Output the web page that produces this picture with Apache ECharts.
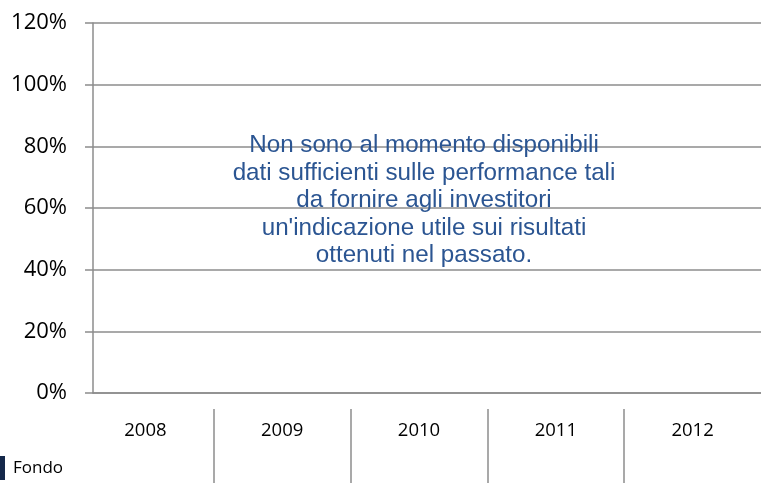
<!DOCTYPE html>
<html>
<head>
<meta charset="utf-8">
<script src="https://cdn.jsdelivr.net/npm/echarts@6/dist/echarts.min.js"></script>
<style>
  html, body { margin: 0; padding: 0; background: #fff; }
  #chart { width: 761px; height: 483px; }
</style>
</head>
<body>
<div id="chart"></div>
<script>
// anni della tabella sotto il grafico
var anni = ['2008', '2009', '2010', '2011', '2012'];
// rendimenti del fondo: nessun dato disponibile
var fondo = ['-', '-', '-', '-', '-'];
// scala verticale in %
var yMin = 0, yMax = 120, yStep = 20;
var nota = [
  'Non sono al momento disponibili',
  'dati sufficienti sulle performance tali',
  'da fornire agli investitori',
  "un'indicazione utile sui risultati",
  'ottenuti nel passato.'
];

var chart = echarts.init(document.getElementById('chart'));
var grigio = '#8c8c8c';

var option = {
  animation: false,
  title: {
    text: nota.join('\n'),
    left: 419,
    top: 127,
    textAlign: 'center',
    textStyle: {
      fontFamily: 'Liberation Sans',
      fontSize: 24.2,
      lineHeight: 27.5,
      fontWeight: 'normal',
      color: '#2B5592'
    }
  },
  legend: {
    data: ['Fondo'],
    left: -11,
    top: 456,
    padding: 0,
    icon: 'rect',
    itemWidth: 16,
    itemHeight: 24,
    itemGap: 10,
    textStyle: { fontFamily: 'Open Sans', fontSize: 17, color: '#000', padding: [0, 0, 0, 3] }
  },
  grid: [
    { left: 93, right: 0, top: 23, bottom: 90 },   // area del grafico
    { left: 77, width: 686, top: 409, height: 74 } // tabella anni
  ],
  xAxis: [
    {
      type: 'category',
      gridIndex: 0,
      data: anni,
      axisLine: { show: true, lineStyle: { color: grigio, width: 1.5 } },
      axisTick: { show: false },
      axisLabel: { show: false },
      splitLine: { show: false }
    },
    {
      type: 'category',
      gridIndex: 1,
      position: 'top',
      data: anni,
      axisLine: { show: false },
      axisTick: { show: false },
      axisLabel: {
        inside: true,
        margin: 12,
        fontFamily: 'Open Sans',
        fontSize: 18.5,
        color: '#000',
        interval: 0
      },
      splitLine: {
        show: true,
        interval: 0,
        showMinLine: false,
        showMaxLine: false,
        lineStyle: { color: grigio, width: 1.5 }
      }
    }
  ],
  yAxis: [
    {
      type: 'value',
      gridIndex: 0,
      min: yMin,
      max: yMax,
      interval: yStep,
      axisLine: { show: true, lineStyle: { color: grigio, width: 1.5 } },
      axisTick: { show: true, length: 8, lineStyle: { color: grigio, width: 1.5 } },
      axisLabel: {
        formatter: '{value}%',
        margin: 26,
        fontFamily: 'Open Sans',
        fontSize: 22,
        color: '#000'
      },
      splitLine: { show: true, lineStyle: { color: grigio, width: 1.5 } }
    },
    {
      type: 'value',
      gridIndex: 1,
      show: false
    }
  ],
  series: [
    {
      name: 'Fondo',
      type: 'bar',
      xAxisIndex: 0,
      yAxisIndex: 0,
      data: fondo,
      itemStyle: { color: '#14284A' }
    }
  ]
};

chart.setOption(option);
</script>
</body>
</html>
